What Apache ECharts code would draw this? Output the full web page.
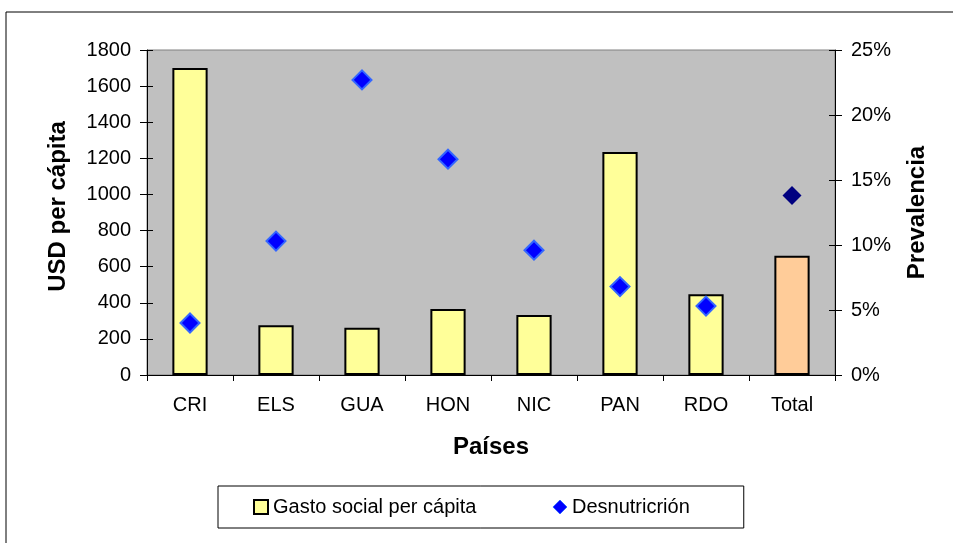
<!DOCTYPE html>
<html>
<head>
<meta charset="utf-8">
<script src="https://cdn.jsdelivr.net/npm/echarts@6/dist/echarts.min.js"></script>
<style>
  html, body { margin: 0; padding: 0; background: #fff; }
  #chart { width: 953px; height: 543px; }
</style>
</head>
<body>
<div id="chart"></div>
<script>
// datos
const paises = ['CRI', 'ELS', 'GUA', 'HON', 'NIC', 'PAN', 'RDO', 'Total'];
const gastoSocial = [1700, 275, 262, 365, 332, 1235, 447, 660];
const desnutricion = [4.0, 10.3, 22.7, 16.6, 9.6, 6.8, 5.3, 13.8];
const ticksUsd = [0, 1800, 200];
const ticksPct = [0, 25, 5];

const font = 'Liberation Sans, Arial, sans-serif';
const chart = echarts.init(document.getElementById('chart'));

const barData = gastoSocial.map((v, i) => {
  if (paises[i] === 'Total') return { value: v, itemStyle: { color: '#FFCC99' } };
  return v;
});
const dotData = desnutricion.map((v, i) => {
  if (paises[i] === 'Total') return { value: v, symbolSize: 19, itemStyle: { color: '#000080', borderWidth: 0 } };
  return v;
});

// eje de ticks internos (marcas cruzadas como en Excel)
function innerAxis(pos, min, max, step) {
  return {
    type: 'value', position: pos, min: min, max: max, interval: step,
    axisLine: { show: false },
    axisTick: { show: true, inside: true, length: 6, lineStyle: { color: '#000' } },
    axisLabel: { show: false },
    splitLine: { show: false }
  };
}

const option = {
  animation: false,
  textStyle: { fontFamily: font },
  graphic: [{
    type: 'rect',
    shape: { x: 6, y: 12, width: 1000, height: 600 },
    style: { fill: 'none', stroke: '#000', lineWidth: 1 },
    z: -10
  }],
  grid: {
    left: 147, right: 118, top: 50, bottom: 168,
    show: true, backgroundColor: '#C0C0C0', borderColor: '#808080', borderWidth: 1
  },
  legend: {
    left: 218, top: 486,
    padding: [11, 54, 11, 35],
    itemGap: 76,
    itemWidth: 14, itemHeight: 14,
    borderColor: '#000', borderWidth: 1,
    textStyle: { fontFamily: font, fontSize: 20, color: '#000' },
    data: [
      { name: 'Gasto social per cápita', icon: 'rect', itemStyle: { color: '#FFFF99', borderColor: '#000', borderWidth: 2 } },
      { name: 'Desnutricrión', icon: 'diamond', itemStyle: { color: '#0000FF', borderColor: '#3366FF', borderWidth: 1 } }
    ]
  },
  xAxis: {
    type: 'category',
    data: paises,
    name: 'Países',
    nameLocation: 'middle',
    nameGap: 60,
    nameTextStyle: { fontFamily: font, fontSize: 24, fontWeight: 'bold', color: '#000' },
    axisLine: { lineStyle: { color: '#000', width: 1 } },
    axisTick: { show: true, length: 6, alignWithLabel: false, lineStyle: { color: '#000' } },
    axisLabel: { fontFamily: font, fontSize: 20, color: '#000', margin: 20 },
    splitLine: { show: false }
  },
  yAxis: [{
    type: 'value', position: 'left',
    min: ticksUsd[0], max: ticksUsd[1], interval: ticksUsd[2],
    name: 'USD per cápita',
    nameLocation: 'middle',
    nameGap: 77,
    nameRotate: 90,
    nameTextStyle: { fontFamily: font, fontSize: 24, fontWeight: 'bold', color: '#000', padding: [0, 0, 0, 12] },
    axisLine: { show: true, lineStyle: { color: '#000' } },
    axisTick: { show: true, length: 7, lineStyle: { color: '#000' } },
    axisLabel: { fontFamily: font, fontSize: 20, color: '#000', margin: 16, formatter: v => String(v) },
    splitLine: { show: false }
  }, {
    type: 'value', position: 'right',
    min: ticksPct[0], max: ticksPct[1], interval: ticksPct[2],
    name: 'Prevalencia',
    nameLocation: 'middle',
    nameGap: 70,
    nameRotate: 90,
    nameTextStyle: { fontFamily: font, fontSize: 24, fontWeight: 'bold', color: '#000' },
    axisLine: { show: true, lineStyle: { color: '#000' } },
    axisTick: { show: true, length: 7, lineStyle: { color: '#000' } },
    axisLabel: { fontFamily: font, fontSize: 20, color: '#000', margin: 16, formatter: '{value}%' },
    splitLine: { show: false }
  },
  innerAxis('left', ticksUsd[0], ticksUsd[1], ticksUsd[2]),
  innerAxis('right', ticksPct[0], ticksPct[1], ticksPct[2])
  ],
  series: [{
    name: 'Gasto social per cápita',
    type: 'bar',
    yAxisIndex: 0,
    data: barData,
    barWidth: '41%',
    itemStyle: { color: '#FFFF99', borderColor: '#000', borderWidth: 2 },
    z: 2
  }, {
    name: 'Desnutricrión',
    type: 'scatter',
    yAxisIndex: 1,
    data: dotData,
    symbol: 'diamond',
    symbolSize: 19,
    itemStyle: { color: '#0000FF', borderColor: '#3366FF', borderWidth: 2, opacity: 1 },
    z: 3
  }]
};

chart.setOption(option);
</script>
</body>
</html>
